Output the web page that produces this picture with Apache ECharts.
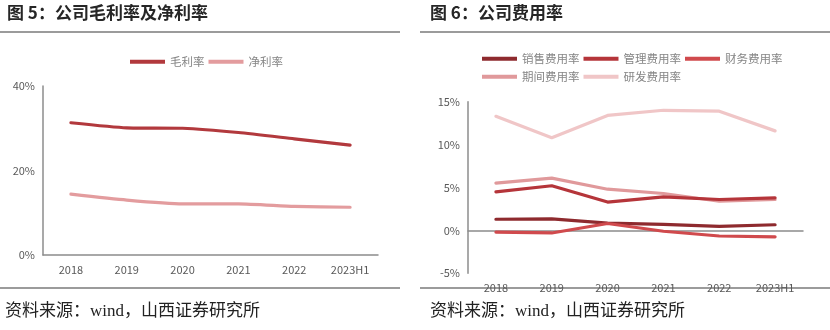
<!DOCTYPE html>
<html><head><meta charset="utf-8">
<script src="https://cdn.jsdelivr.net/npm/echarts@6/dist/echarts.min.js"></script>
<style>html,body{margin:0;padding:0;background:#fff}#c{width:830px;height:330px}</style>
</head><body><div id="c"></div>
<script>
const categories = ['2018','2019','2020','2021','2022','2023H1'];
const grossMargin = [31.3, 30.1, 30.0, 29.0, 27.5, 26.0];
const netMargin = [14.4, 13.0, 12.1, 12.1, 11.5, 11.3];
const salesRate = [1.3, 1.35, 0.85, 0.7, 0.47, 0.66];
const adminRate = [4.5, 5.2, 3.3, 3.9, 3.6, 3.8];
const financeRate = [-0.2, -0.3, 0.8, -0.1, -0.65, -0.75];
const periodRate = [5.5, 6.1, 4.8, 4.3, 3.4, 3.6];
const rdRate = [13.3, 10.8, 13.4, 14.0, 13.9, 11.6];
const leftTitle = '图 5：公司毛利率及净利率';
const rightTitle = '图 6：公司费用率';
const sourceText = '资料来源：wind，山西证券研究所';

const cjk = '"Noto Sans CJK SC", "Noto Sans", sans-serif';
const serif = '"Liberation Serif", "Noto Sans CJK SC", serif';
const axisGray = '#8c8c8c';
const labelGray = '#595959';

function xAxis(gi){
  return {type:'category', gridIndex:gi, data:categories, boundaryGap:true,
    axisLine:{onZero:true, lineStyle:{color:axisGray, width:1.5}}, axisTick:{show:false},
    axisLabel:{color:labelGray, fontSize:11, fontFamily:cjk, margin:9}};
}
function yAxis(gi,min,max,interval){
  return {type:'value', gridIndex:gi, min:min, max:max, interval:interval,
    axisLine:{show:true, lineStyle:{color:axisGray, width:1.5}}, axisTick:{show:false}, splitLine:{show:false},
    axisLabel:{color:labelGray, fontSize:11, fontFamily:cjk, margin:8, formatter:'{value}%'}};
}
function line(name, data, color, gi, smooth){
  return {name:name, type:'line', xAxisIndex:gi, yAxisIndex:gi, data:data, symbol:'none', smooth:smooth||false,
    lineStyle:{color:color, width:3.2, cap:'round', join:'round'}, itemStyle:{color:color}};
}
const legendBase = {icon:'rect', itemWidth:35, itemHeight:4, itemGap:4,
  textStyle:{color:'#858585', fontSize:11.5, fontFamily:cjk}};

const chart = echarts.init(document.getElementById('c'), null, {renderer:'canvas'});
chart.setOption({
  animation:false,
  grid:[{left:43, top:86, width:335, height:169}, {left:468, top:101.7, width:335, height:171.6}],
  xAxis:[xAxis(0), xAxis(1)],
  yAxis:[yAxis(0,0,40,20), yAxis(1,-5,15,5)],
  legend:[
    Object.assign({}, legendBase, {left:125, top:51, data:['毛利率','净利率']}),
    Object.assign({}, legendBase, {left:477, top:48, data:['销售费用率','管理费用率','财务费用率']}),
    Object.assign({}, legendBase, {left:477, top:66, data:['期间费用率','研发费用率']})
  ],
  series:[
    line('毛利率', grossMargin, '#b2393d', 0, 0.2),
    line('净利率', netMargin, '#e39c9e', 0, 0.2),
    line('研发费用率', rdRate, '#f0c6c7', 1),
    line('期间费用率', periodRate, '#e0999b', 1),
    line('管理费用率', adminRate, '#b5353a', 1),
    line('销售费用率', salesRate, '#8e2a2e', 1),
    line('财务费用率', financeRate, '#d04a4d', 1)
  ],
  graphic:[
    {type:'text', left:7, top:4, style:{text:leftTitle, font:'bold 17px '+cjk, fill:'#262626'}},
    {type:'text', left:430, top:4, style:{text:rightTitle, font:'bold 17px '+cjk, fill:'#262626'}},
    {type:'line', shape:{x1:0, y1:32, x2:400, y2:32}, style:{stroke:'#7a7a7a', lineWidth:1.5}},
    {type:'line', shape:{x1:420, y1:32, x2:830, y2:32}, style:{stroke:'#7a7a7a', lineWidth:1.5}},
    {type:'line', shape:{x1:0, y1:288, x2:400, y2:288}, style:{stroke:'#7a7a7a', lineWidth:1.5}},
    {type:'line', shape:{x1:420, y1:288, x2:830, y2:288}, style:{stroke:'#7a7a7a', lineWidth:1.5}},
    {type:'text', left:5, top:303, style:{text:sourceText, font:'17px '+serif, fill:'#222'}},
    {type:'text', left:430, top:303, style:{text:sourceText, font:'17px '+serif, fill:'#222'}}
  ]
});
</script></body></html>
